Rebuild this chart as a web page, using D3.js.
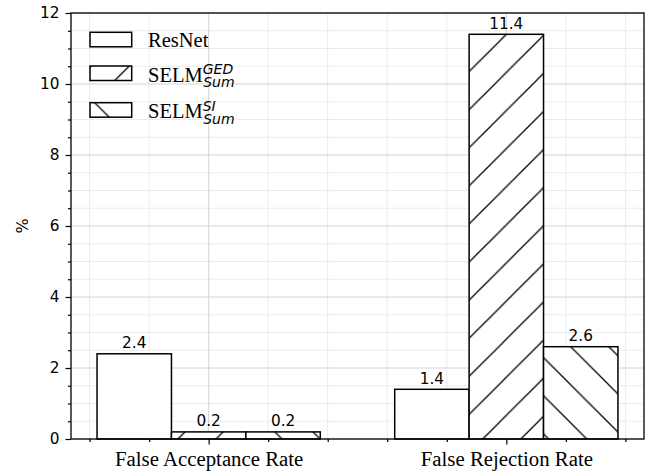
<!DOCTYPE html>
<html>
<head>
<meta charset="utf-8">
<script src="https://cdn.jsdelivr.net/npm/d3@7"></script>
<style>
  html, body { margin: 0; padding: 0; background: #fff; overflow: hidden; }
  svg { display: block; }
</style>
</head>
<body>
<svg id="chart" width="648" height="473"></svg>
<script>
// ---- data ----
const categories = ["False Acceptance Rate", "False Rejection Rate"];
const seriesNames = ["ResNet", "SELM GED", "SELM SI"];
const resnetValues = [2.4, 1.4];
const selmGEDValues = [0.2, 11.4];
const selmSIValues = [0.2, 2.6];
const yMajorTicks = [0, 2, 4, 6, 8, 10, 12];
const yMinorTicks = [0.5,1,1.5,2.5,3,3.5,4.5,5,5.5,6.5,7,7.5,8.5,9,9.5,10.5,11,11.5];
const xMinorTicks = [-0.4, -0.2, 0.2, 0.4, 0.6, 0.8, 1.2, 1.4];

const svg = d3.select("#chart");
const pLeft = 71, pRight = 644, pTop = 13, pBottom = 439;

const x = d3.scaleLinear().domain([-0.4625, 1.4625]).range([pLeft, pRight]);
const y = d3.scaleLinear().domain([0, 12]).range([pBottom, pTop]);

// ---- hatch patterns ----
const defs = svg.append("defs");
const P = 38.1;
function hatch(id, dir, phase) {
  const p = defs.append("pattern").attr("id", id)
    .attr("patternUnits", "userSpaceOnUse")
    .attr("width", P).attr("height", P)
    .attr("x", phase).attr("y", 0);
  p.append("rect").attr("width", P).attr("height", P).attr("fill", "#fff");
  const d = dir === "/"
    ? `M-2,2L2,-2M-1,${P+1}L${P+1},-1M${P-2},${P+2}L${P+2},${P-2}`
    : `M-1,-1L${P+1},${P+1}M-2,${P-2}L2,${P+2}M${P-2},-2L${P+2},2`;
  p.append("path").attr("d", d).attr("stroke", "#000").attr("stroke-width", 1.3).attr("fill", "none");
}
hatch("hFwd", "/", 7.3);
hatch("hBack", "\\", 33.5);
hatch("hFwdLeg", "/", 4.8);
hatch("hBackLeg", "\\", 30.1);

// ---- grid ----
const grid = svg.append("g");
grid.selectAll(".ymin").data(yMinorTicks).join("line")
  .attr("x1", pLeft).attr("x2", pRight).attr("y1", d => y(d)).attr("y2", d => y(d))
  .attr("stroke", "#ebebeb").attr("stroke-width", 1);
grid.selectAll(".xmin").data(xMinorTicks).join("line")
  .attr("y1", pTop).attr("y2", pBottom).attr("x1", d => x(d)).attr("x2", d => x(d))
  .attr("stroke", "#ebebeb").attr("stroke-width", 1);
grid.selectAll(".ymaj").data(yMajorTicks).join("line")
  .attr("x1", pLeft).attr("x2", pRight).attr("y1", d => y(d)).attr("y2", d => y(d))
  .attr("stroke", "#d4d4d4").attr("stroke-width", 1);
grid.selectAll(".xmaj").data([0, 1]).join("line")
  .attr("y1", pTop).attr("y2", pBottom).attr("x1", d => x(d)).attr("x2", d => x(d))
  .attr("stroke", "#d4d4d4").attr("stroke-width", 1);

// ---- bars ----
const seriesData = [
  { name: seriesNames[0], values: resnetValues, fill: "#fff", offset: -0.25 },
  { name: seriesNames[1], values: selmGEDValues, fill: "url(#hFwd)", offset: 0 },
  { name: seriesNames[2], values: selmSIValues, fill: "url(#hBack)", offset: 0.25 }
];
const bw = 0.25;
seriesData.forEach(s => {
  const g = svg.append("g");
  g.selectAll("rect").data(s.values).join("rect")
    .attr("x", (d, i) => x(i + s.offset - bw / 2))
    .attr("width", x(bw) - x(0))
    .attr("y", d => y(d))
    .attr("height", d => y(0) - y(d))
    .attr("fill", s.fill)
    .attr("stroke", "#000").attr("stroke-width", 1.5);
  g.selectAll("text").data(s.values).join("text")
    .attr("x", (d, i) => x(i + s.offset))
    .attr("y", d => y(d) - 5.6)
    .attr("text-anchor", "middle")
    .attr("font-family", "DejaVu Sans")
    .attr("font-size", 15.3)
    .text(d => d.toFixed(1));
});

// ---- axes ----
const yAxis = svg.append("g").attr("transform", `translate(${pLeft},0)`)
  .call(d3.axisLeft(y).tickValues(yMajorTicks).tickSize(5.5).tickPadding(6).tickFormat(d3.format("d")));
const yAxisMinor = svg.append("g").attr("transform", `translate(${pLeft},0)`)
  .call(d3.axisLeft(y).tickValues(yMinorTicks).tickSize(3).tickFormat(""));
const xAxis = svg.append("g").attr("transform", `translate(0,${pBottom})`)
  .call(d3.axisBottom(x).tickValues([0, 1]).tickSize(5.5).tickPadding(8).tickFormat(i => categories[i]));
const xAxisMinor = svg.append("g").attr("transform", `translate(0,${pBottom})`)
  .call(d3.axisBottom(x).tickValues(xMinorTicks).tickSize(3).tickFormat(""));

[yAxis, yAxisMinor, xAxis, xAxisMinor].forEach(a => {
  a.select(".domain").remove();
  a.selectAll(".tick line").attr("stroke", "#000").attr("stroke-width", 1.2);
});
yAxis.selectAll(".tick text").attr("font-family", "DejaVu Sans").attr("font-size", 15.3).attr("fill", "#000");
xAxis.selectAll(".tick text").attr("font-family", "Liberation Serif").attr("font-size", 20.8).attr("fill", "#000")
  .attr("dy", null).attr("y", 26.7);

// spines
svg.append("rect").attr("x", pLeft).attr("y", pTop).attr("width", pRight - pLeft).attr("height", pBottom - pTop)
  .attr("fill", "none").attr("stroke", "#000").attr("stroke-width", 1.3);

// y label
svg.append("text").attr("transform", "translate(28,226) rotate(-90)")
  .attr("text-anchor", "middle").attr("font-family", "DejaVu Sans").attr("font-size", 16).text("%");

// ---- legend ----
const legendRows = [
  { main: "ResNet", sup: null, sub: null, fill: "#fff", py: 32.3, base: 46.5 },
  { main: "SELM", sup: "GED", sub: "Sum", fill: "url(#hFwdLeg)", py: 66, base: 81.7 },
  { main: "SELM", sup: "SI", sub: "Sum", fill: "url(#hBackLeg)", py: 102.7, base: 118.3 }
];
const leg = svg.append("g");
legendRows.forEach(r => {
  leg.append("rect").attr("x", 90).attr("y", r.py).attr("width", 41.7).attr("height", 14.5)
    .attr("fill", r.fill).attr("stroke", "#000").attr("stroke-width", 1.5);
  const t = leg.append("text").attr("x", 148).attr("y", r.base)
    .attr("font-family", "Liberation Serif").attr("font-size", 20.5);
  const mainSpan = t.append("tspan").text(r.main);
  if (r.sup) {
    const w = mainSpan.node().getComputedTextLength();
    t.append("tspan").attr("dy", -7.7)
      .attr("font-family", "DejaVu Sans").attr("font-style", "italic").attr("font-size", 14).text(r.sup);
    t.append("tspan").attr("x", 148 + w + 0.5).attr("dy", 12.9)
      .attr("font-family", "DejaVu Sans").attr("font-style", "italic").attr("font-size", 14).text(r.sub);
  }
});
</script>
</body>
</html>
